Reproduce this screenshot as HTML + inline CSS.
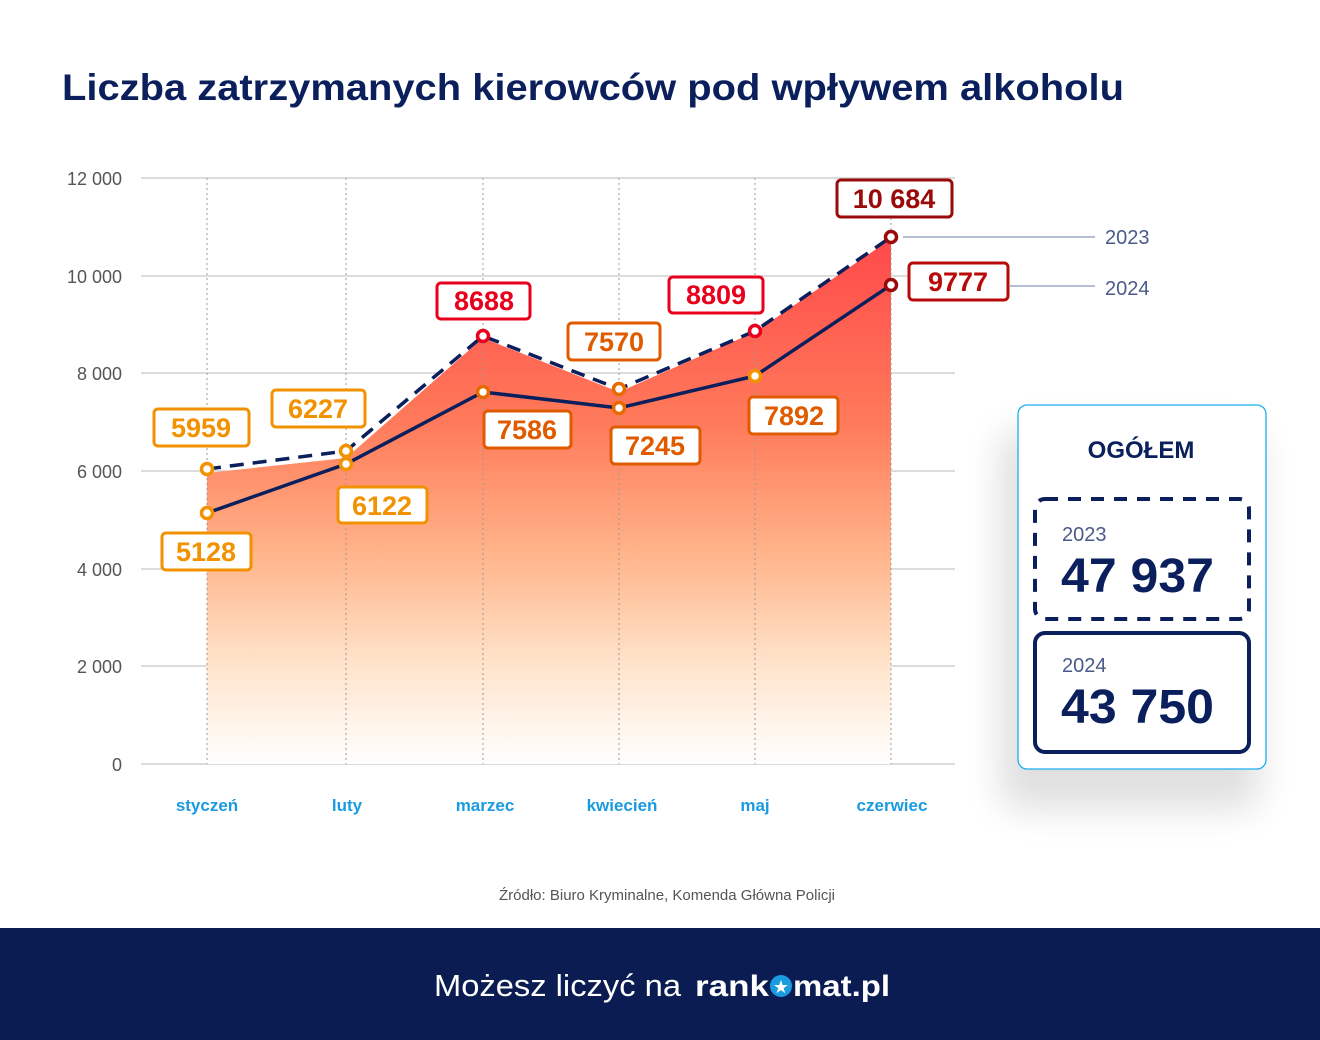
<!DOCTYPE html>
<html><head><meta charset="utf-8"><style>
html,body{margin:0;padding:0;background:#fff}
svg{display:block}
text{font-family:"Liberation Sans","DejaVu Sans",sans-serif}
</style></head><body>
<svg width="1320" height="1040" viewBox="0 0 1320 1040" xmlns="http://www.w3.org/2000/svg">
<defs>
<linearGradient id="fill" gradientUnits="userSpaceOnUse" x1="0" y1="240" x2="0" y2="764">
<stop offset="0" stop-color="#ff4a4a"/>
<stop offset="0.35" stop-color="#ff7a5a"/>
<stop offset="0.6" stop-color="#ffb48a"/>
<stop offset="0.8" stop-color="#ffe2c8"/>
<stop offset="1" stop-color="#ffffff"/>
</linearGradient>
<filter id="sh" x="-30%" y="-30%" width="160%" height="160%"><feGaussianBlur stdDeviation="18"/></filter>
</defs>
<rect width="1320" height="1040" fill="#fff"/>
<text x="62" y="100" font-size="37" font-weight="bold" fill="#0a1f5c" textLength="1062" lengthAdjust="spacingAndGlyphs">Liczba zatrzymanych kierowców pod wpływem alkoholu</text>

<g stroke="#c8c8c8" stroke-width="1.3">
<line x1="141" y1="178" x2="955" y2="178"/><line x1="141" y1="276" x2="955" y2="276"/>
<line x1="141" y1="373" x2="955" y2="373"/><line x1="141" y1="471" x2="955" y2="471"/>
<line x1="141" y1="569" x2="955" y2="569"/><line x1="141" y1="666" x2="955" y2="666"/>
<line x1="141" y1="764" x2="955" y2="764"/>
</g>
<g font-size="18" fill="#555" text-anchor="end">
<text x="122" y="185">12 000</text><text x="122" y="283">10 000</text><text x="122" y="380">8 000</text>
<text x="122" y="478">6 000</text><text x="122" y="576">4 000</text><text x="122" y="673">2 000</text><text x="122" y="771">0</text>
</g>
<path d="M207,473 L346,458 L483,338 L619,392 L755,332 L891,239 L891,764 L207,764 Z" fill="url(#fill)"/>
<g stroke="#999" stroke-width="1" stroke-dasharray="2,3">
<line x1="207" y1="178" x2="207" y2="764"/><line x1="346" y1="178" x2="346" y2="764"/>
<line x1="483" y1="178" x2="483" y2="764"/><line x1="619" y1="178" x2="619" y2="764"/>
<line x1="755" y1="178" x2="755" y2="764"/><line x1="891" y1="178" x2="891" y2="764"/>
</g>
<g font-size="17" font-weight="bold" fill="#1a9be0" text-anchor="middle">
<text x="207" y="811">styczeń</text><text x="347" y="811">luty</text><text x="485" y="811">marzec</text>
<text x="622" y="811">kwiecień</text><text x="755" y="811">maj</text><text x="892" y="811">czerwiec</text>
</g>
<line x1="903" y1="237" x2="1095" y2="237" stroke="#b4bfd4" stroke-width="2"/>
<line x1="1010" y1="286" x2="1095" y2="286" stroke="#b4bfd4" stroke-width="2"/>
<text x="1105" y="244" font-size="20" fill="#4a5a8a">2023</text>
<text x="1105" y="295" font-size="20" fill="#4a5a8a">2024</text>
<polyline points="207,469 346,451 483,336 619,389 755,331 891,237" fill="none" stroke="#0a1f5c" stroke-width="3.5" stroke-dasharray="14,9"/>
<polyline points="207,513 346,464 483,392 619,408 755,376 891,285" fill="none" stroke="#0a1f5c" stroke-width="3.5"/>
<g fill="#fff" stroke-width="3.5">
<circle cx="207" cy="469" r="5.5" stroke="#f39200"/><circle cx="346" cy="451" r="5.5" stroke="#f39200"/>
<circle cx="483" cy="336" r="5.5" stroke="#e8001c"/><circle cx="619" cy="389" r="5.5" stroke="#e86a00"/>
<circle cx="755" cy="331" r="5.5" stroke="#e8001c"/><circle cx="891" cy="237" r="5.5" stroke="#9a0a0a"/>
<circle cx="207" cy="513" r="5.5" stroke="#f39200"/><circle cx="346" cy="464" r="5.5" stroke="#f39200"/>
<circle cx="483" cy="392" r="5.5" stroke="#e86a00"/><circle cx="619" cy="408" r="5.5" stroke="#e86a00"/>
<circle cx="755" cy="376" r="5.5" stroke="#f39200"/><circle cx="891" cy="285" r="5.5" stroke="#9a0a0a"/>
</g>
<g stroke-width="3" fill="#fff">
<rect x="154" y="409" width="95" height="37" rx="4" stroke="#f39200"/>
<rect x="272" y="390" width="93" height="37" rx="4" stroke="#f39200"/>
<rect x="338" y="487" width="89" height="36" rx="4" stroke="#f39200"/>
<rect x="162" y="533" width="89" height="37" rx="4" stroke="#f39200"/>
<rect x="437" y="283" width="93" height="36" rx="4" stroke="#e8001c"/>
<rect x="484" y="411" width="87" height="37" rx="4" stroke="#e05a00"/>
<rect x="568" y="323" width="92" height="37" rx="4" stroke="#e05a00"/>
<rect x="611" y="427" width="89" height="37" rx="4" stroke="#e05a00"/>
<rect x="669" y="277" width="94" height="36" rx="4" stroke="#e8001c"/>
<rect x="749" y="397" width="89" height="37" rx="4" stroke="#e05a00"/>
<rect x="837" y="180" width="115" height="37" rx="4" stroke="#9a0a0a"/>
<rect x="909" y="263" width="99" height="37" rx="4" stroke="#b80a0a"/>
</g>
<g font-size="27" font-weight="bold" text-anchor="middle">
<text x="201" y="437" fill="#f39200">5959</text>
<text x="318" y="418" fill="#f39200">6227</text>
<text x="382" y="515" fill="#f39200">6122</text>
<text x="206" y="561" fill="#f39200">5128</text>
<text x="484" y="310" fill="#e8001c">8688</text>
<text x="527" y="439" fill="#e05a00">7586</text>
<text x="614" y="351" fill="#e05a00">7570</text>
<text x="655" y="455" fill="#e05a00">7245</text>
<text x="716" y="304" fill="#e8001c">8809</text>
<text x="794" y="425" fill="#e05a00">7892</text>
<text x="894" y="208" fill="#9a0a0a">10 684</text>
<text x="958" y="291" fill="#b80a0a">9777</text>
</g>
<rect x="1000" y="430" width="260" height="380" rx="20" fill="#000" opacity="0.12" filter="url(#sh)"/>
<rect x="1018" y="405" width="248" height="364" rx="9" fill="#fff" stroke="#1ab0f0" stroke-width="1.3"/>
<text x="1141" y="458" font-size="24" font-weight="bold" fill="#0a1f5c" text-anchor="middle">OGÓŁEM</text>
<rect x="1035" y="499" width="214" height="120" rx="10" fill="#fff" stroke="#0a1f5c" stroke-width="4" stroke-dasharray="13,10"/>
<text x="1062" y="541" font-size="20" fill="#4a5a8a">2023</text>
<text x="1061" y="592" font-size="48" font-weight="bold" fill="#0a1f5c" textLength="153" lengthAdjust="spacingAndGlyphs">47 937</text>
<rect x="1035" y="633" width="214" height="119" rx="10" fill="#fff" stroke="#0a1f5c" stroke-width="4"/>
<text x="1062" y="672" font-size="20" fill="#4a5a8a">2024</text>
<text x="1061" y="723" font-size="48" font-weight="bold" fill="#0a1f5c" textLength="153" lengthAdjust="spacingAndGlyphs">43 750</text>

<text x="667" y="900" font-size="15" fill="#555" text-anchor="middle">Źródło: Biuro Kryminalne, Komenda Główna Policji</text>
<rect x="0" y="928" width="1320" height="112" fill="#0a1c52"/>
<text x="434" y="996" font-size="31" fill="#fff" textLength="247" lengthAdjust="spacingAndGlyphs">Możesz liczyć na</text>
<text x="695" y="996" font-size="30" font-weight="bold" fill="#fff" textLength="74" lengthAdjust="spacingAndGlyphs">rank</text>
<circle cx="781" cy="986" r="11" fill="#1a9be0"/>
<text x="781" y="993" font-size="18" fill="#fff" text-anchor="middle">★</text>
<text x="793" y="996" font-size="30" font-weight="bold" fill="#fff" textLength="97" lengthAdjust="spacingAndGlyphs">mat.pl</text>
</svg>
</body></html>
